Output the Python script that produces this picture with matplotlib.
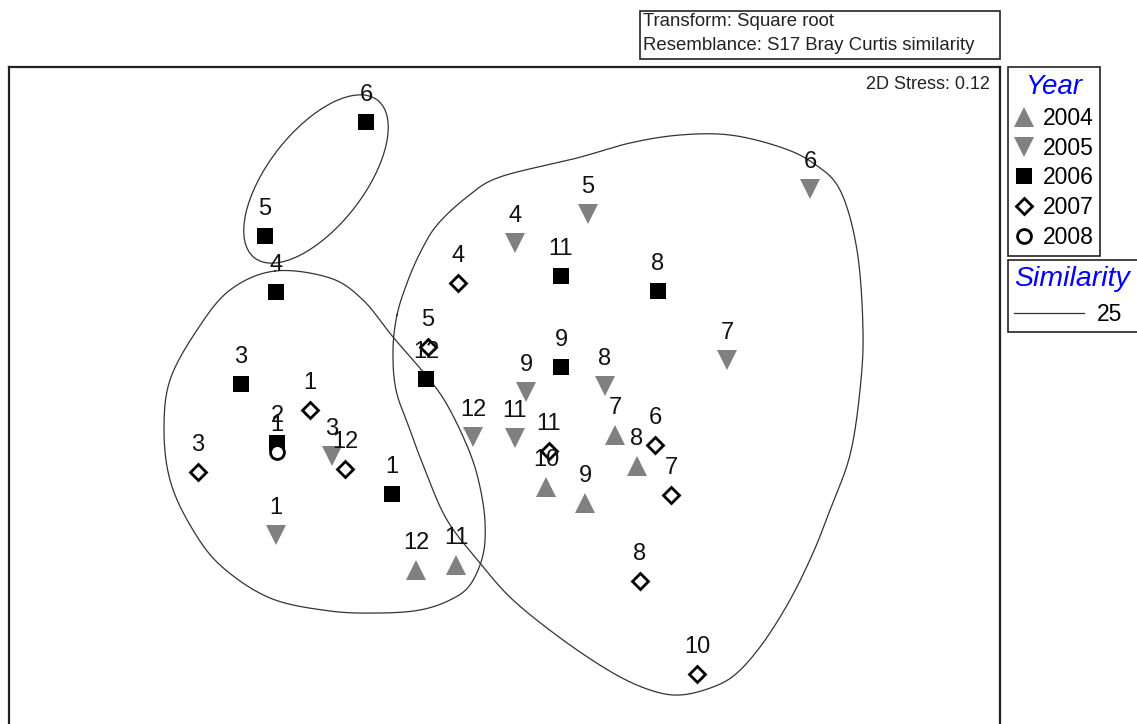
import numpy as np
import matplotlib
matplotlib.use("Agg")
import matplotlib.pyplot as plt
from matplotlib.patches import Ellipse, Rectangle
from matplotlib.lines import Line2D

plt.rcParams['font.family'] = ['Liberation Sans', 'DejaVu Sans']

# nMDS scores (screen units: x right, y down)
y2004_lab = ['7', '8', '9', '10', '12', '11']
y2004_x = [615, 637, 585, 546, 416, 456]
y2004_y = [435, 466, 503, 487, 570, 565]

y2005_lab = ['6', '5', '4', '7', '8', '9', '12', '11', '3', '1']
y2005_x = [810, 588, 515, 727, 605, 526, 473, 515, 332, 276]
y2005_y = [189, 214, 243, 360, 386, 392, 437, 438, 456, 535]

y2006_lab = ['6', '5', '4', '11', '8', '9', '12', '3', '2', '1']
y2006_x = [366, 265, 276, 561, 658, 561, 426, 241, 277, 392]
y2006_y = [122, 236, 292, 276, 291, 367, 379, 384, 443, 494]

y2007_lab = ['4', '5', '1', '3', '12', '11', '6', '7', '8', '10']
y2007_x = [458, 428, 310, 198, 345, 549, 655, 671, 640, 697]
y2007_y = [283, 347, 410, 472, 469, 451, 445, 495, 581, 674]

y2008_lab = ['1']
y2008_x = [277]
y2008_y = [452]

# 25% similarity outlines
small_center = (316, 179)
small_axes = (200, 96)
small_angle = -52

left_x = [275, 330, 363, 393, 430, 450, 470, 480, 485, 483, 470, 450, 420, 380, 330,
          270, 220, 190, 170, 164, 170, 197, 230]
left_y = [271, 278, 300, 337, 380, 410, 453, 487, 522, 555, 585, 600, 610, 613, 611,
          598, 565, 525, 480, 430, 380, 330, 290]

big_x = [397, 407, 420, 437, 467, 500, 577, 630, 680, 730, 780, 813, 840, 857, 863, 860,
         850, 830, 813, 790, 763, 737, 713, 680, 650, 613, 563, 513, 480, 447, 425,
         410, 396, 393]
big_y = [315, 283, 253, 225, 197, 177, 158, 143, 135, 135, 147, 163, 190, 250, 330, 390,
         455, 510, 553, 600, 643, 673, 687, 695, 690, 673, 640, 600, 563, 520, 470,
         430, 390, 350]

years = ['2004', '2005', '2006', '2007', '2008']
GREY = '#808080'
styles = {
    '2004': dict(marker='^', ms=14, mfc=GREY, mec=GREY, mew=0),
    '2005': dict(marker='v', ms=14, mfc=GREY, mec=GREY, mew=0),
    '2006': dict(marker='s', ms=11.5, mfc='black', mec='black', mew=0),
    '2007': dict(marker='D', ms=8.5, mfc='white', mec='black', mew=2),
    '2008': dict(marker='o', ms=10, mfc='white', mec='black', mew=2),
}
series = {
    '2004': (y2004_x, y2004_y, y2004_lab),
    '2005': (y2005_x, y2005_y, y2005_lab),
    '2006': (y2006_x, y2006_y, y2006_lab),
    '2007': (y2007_x, y2007_y, y2007_lab),
    '2008': (y2008_x, y2008_y, y2008_lab),
}


def smooth_closed(xs, ys, n=24):
    p = np.column_stack([xs, ys]).astype(float)
    p0, p1, p2, p3 = np.roll(p, 1, 0), p, np.roll(p, -1, 0), np.roll(p, -2, 0)
    t = np.linspace(0, 1, n, endpoint=False)[:, None, None]
    c = 0.5 * (2 * p1 + (p2 - p0) * t + (2 * p0 - 5 * p1 + 4 * p2 - p3) * t ** 2
               + (3 * p1 - p0 - 3 * p2 + p3) * t ** 3)
    c = c.transpose(1, 0, 2).reshape(-1, 2)
    c = np.vstack([c, c[:1]])
    return c[:, 0], c[:, 1]


W, H = 1137, 724
fig = plt.figure(figsize=(W / 100, H / 100), dpi=100)
ax = fig.add_axes([9 / W, (H - 745) / H, (1000 - 9) / W, (745 - 67) / H])
ax.set_xlim(9, 1000)
ax.set_ylim(745, 67)
ax.set_xticks([])
ax.set_yticks([])
for s in ax.spines.values():
    s.set_linewidth(1.6)
    s.set_color('#222222')

# outlines
ax.add_patch(Ellipse(small_center, small_axes[0], small_axes[1], angle=small_angle,
                     fill=False, lw=0.9, ec='#333333'))
for xs, ys in [(left_x, left_y), (big_x, big_y)]:
    cx, cy = smooth_closed(xs, ys)
    ax.plot(cx, cy, color='#333333', lw=0.9)

handles = []
for yr in years:
    xs, ys, labs = series[yr]
    ax.plot(xs, ys, ls='none', zorder=3, **styles[yr])
    for x, y, lab in zip(xs, ys, labs):
        ax.annotate(lab, (x, y), xytext=(0, 21), textcoords='offset pixels',
                    ha='center', va='baseline', fontsize=17, color='#111111', zorder=4)
    handles.append(Line2D([], [], ls='none', **styles[yr]))

ax.text(990, 84, '2D Stress: 0.12', ha='right', va='center', fontsize=13, color='#222222')

leg1 = fig.legend(handles, years, loc='upper left', bbox_to_anchor=(1008 / W, 1 - 67 / H),
                  bbox_transform=fig.transFigure, borderaxespad=0, fancybox=False,
                  edgecolor='#222222', framealpha=1, fontsize=16.5, title='Year',
                  handlelength=0.8, handletextpad=0.4, labelspacing=0.3,
                  borderpad=0.3, alignment='center')
leg1.get_frame().set_linewidth(1.2)
leg1.get_title().set_color('blue')
leg1.get_title().set_fontstyle('italic')
leg1.get_title().set_fontsize(20)

leg2 = fig.legend([Line2D([], [], color='#333333', lw=0.9)], ['25'], loc='upper left',
                  bbox_to_anchor=(1008 / W, 1 - 260 / H, 150 / W, 0),
                  bbox_transform=fig.transFigure, mode='expand',
                  borderaxespad=0, fancybox=False, edgecolor='#222222', framealpha=1,
                  fontsize=16.5, title='Similarity', handlelength=3.05, handletextpad=0.6,
                  borderpad=0.25, alignment='left')
leg2.get_frame().set_linewidth(1.2)
leg2.get_title().set_color('blue')
leg2.get_title().set_fontstyle('italic')
leg2.get_title().set_fontsize(20.5)

# header box
top = fig.add_axes([0, 0, 1, 1], zorder=5)
top.set_xlim(0, W)
top.set_ylim(H, 0)
top.axis('off')
top.patch.set_alpha(0)
top.add_patch(Rectangle((640, 11), 360, 48, fill=False, ec='#222222', lw=1.2))
top.text(643, 22, 'Transform: Square root', va='center', fontsize=13.4, color='#222222')
top.text(643, 46, 'Resemblance: S17 Bray Curtis similarity', va='center', fontsize=13.4,
         color='#222222')

fig.savefig('out.png', dpi=100)
